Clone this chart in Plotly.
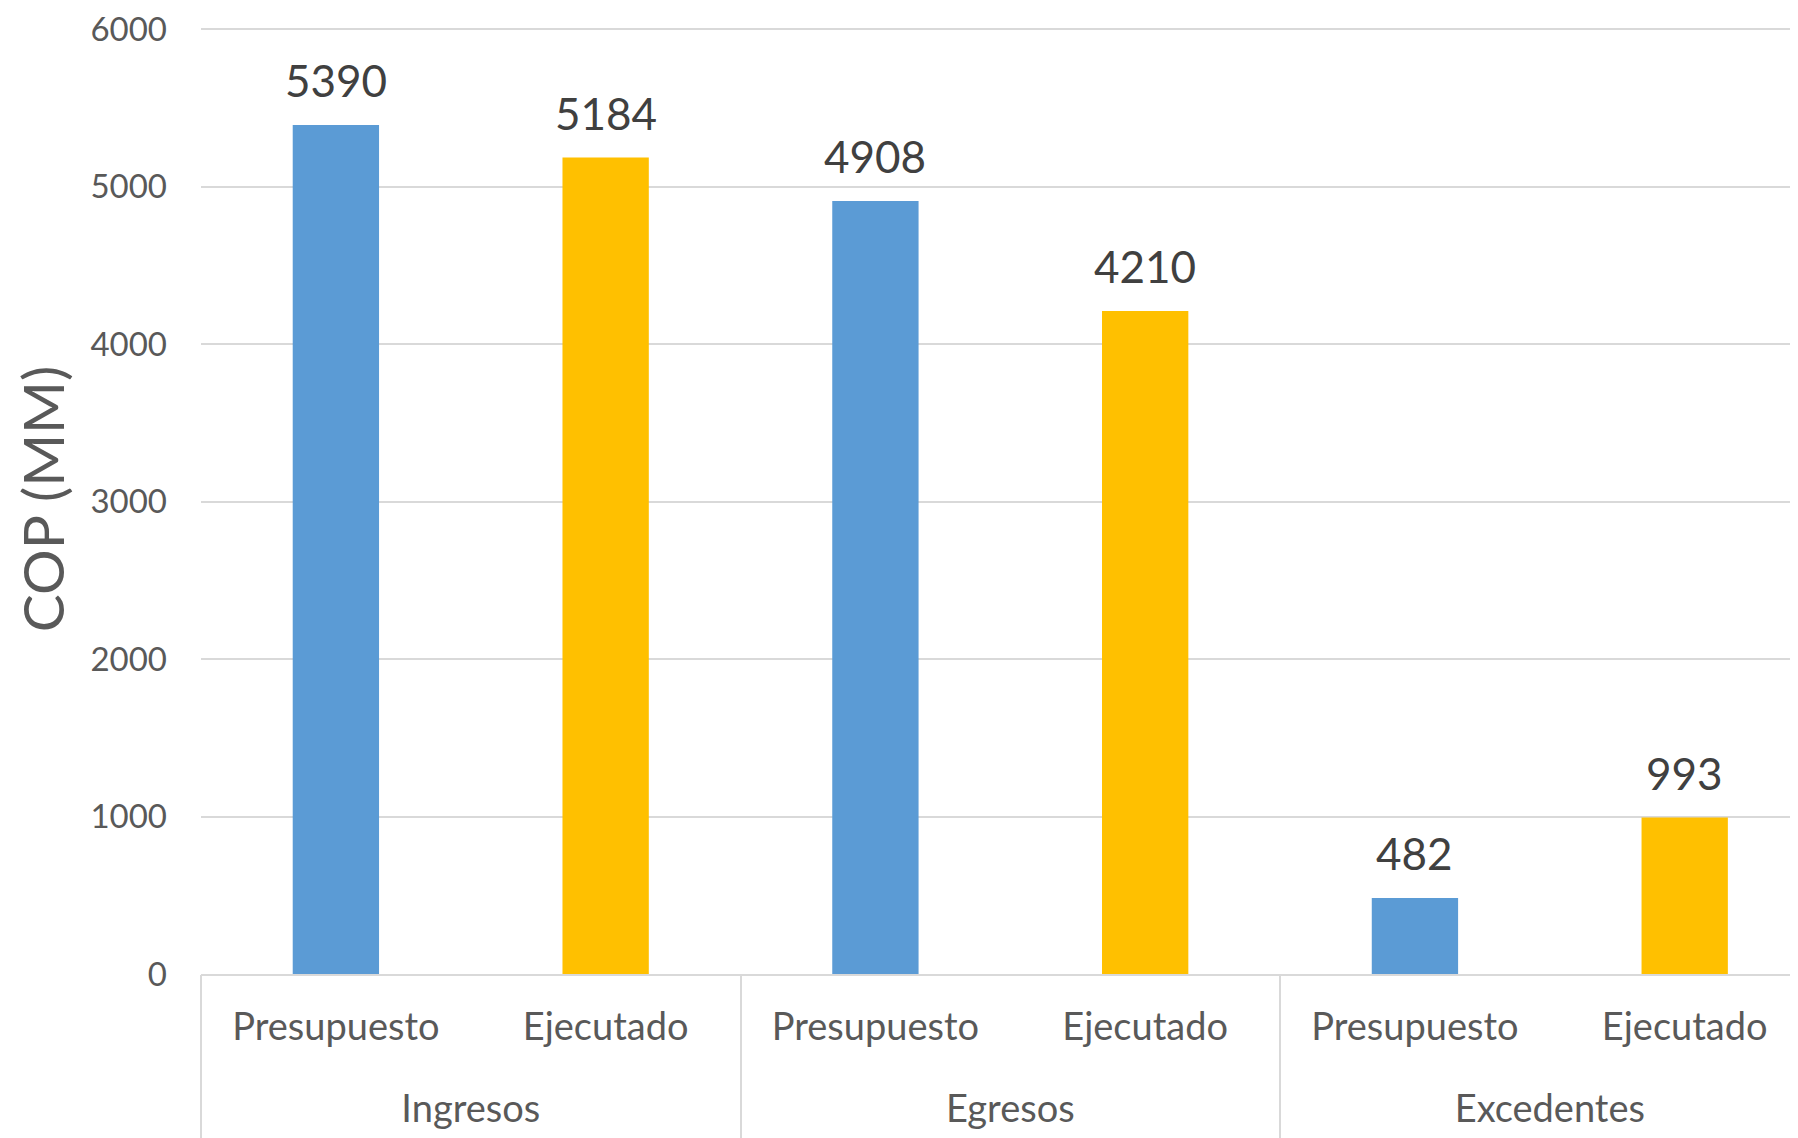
import plotly.graph_objects as go

groups = ["Ingresos", "Egresos", "Excedentes"]
kinds = ["Presupuesto", "Ejecutado", "Presupuesto", "Ejecutado", "Presupuesto", "Ejecutado"]
group_of_bar = ["Ingresos", "Ingresos", "Egresos", "Egresos", "Excedentes", "Excedentes"]
values = [5390, 5184, 4908, 4210, 482, 993]
colors_by_kind = {"Presupuesto": "#5B9BD5", "Ejecutado": "#FFC000"}
y_ticks = [0, 1000, 2000, 3000, 4000, 5000, 6000]

FONT = "Lato"
GRAY = "#D9D9D9"

positions = list(range(len(values)))
group_centers = [
    sum(i for i, g in enumerate(group_of_bar) if g == grp) / group_of_bar.count(grp)
    for grp in groups
]
group_edges = [-0.5] + [
    max(i for i, g in enumerate(group_of_bar) if g == grp) + 0.5 for grp in groups
]

fig = go.Figure()
fig.add_trace(go.Bar(
    x=positions,
    y=values,
    marker=dict(color=[colors_by_kind[k] for k in kinds], line=dict(width=0)),
    width=0.32,
    hovertext=[f"{g} - {k}" for g, k in zip(group_of_bar, kinds)],
))
# empty traces so the extra label axes are rendered
fig.add_trace(go.Scatter(x=[], y=[], xaxis="x2", showlegend=False))
fig.add_trace(go.Scatter(x=[], y=[], xaxis="x3", showlegend=False))

for xpos, v in zip(positions, values):
    fig.add_annotation(
        x=xpos, y=v, xref="x", yref="y",
        text=str(v), showarrow=False,
        yanchor="bottom", yshift=17,
        font=dict(family=FONT, size=44, color="#404040"),
    )

XRANGE = [-0.5, 5.42]

fig.update_layout(
    width=1790,
    height=1130,
    margin=dict(l=193, r=0, t=16, b=164, autoexpand=False),
    paper_bgcolor="white",
    plot_bgcolor="white",
    showlegend=False,
    font=dict(family=FONT, color="#595959"),
    xaxis=dict(
        range=XRANGE,
        tickvals=positions,
        ticktext=kinds,
        tickfont=dict(family=FONT, size=38, color="#595959"),
        ticklabelstandoff=18,
        showline=True, linecolor=GRAY, linewidth=2,
        ticks="", showgrid=False, zeroline=False,
        automargin=False,
    ),
    xaxis2=dict(
        overlaying="x", anchor="y", side="bottom",
        range=XRANGE,
        tickvals=group_centers,
        ticktext=groups,
        tickfont=dict(family=FONT, size=38, color="#595959"),
        ticklabelstandoff=109,
        showline=False, ticks="", showgrid=False, zeroline=False,
        automargin=False,
    ),
    xaxis3=dict(
        overlaying="x", anchor="y", side="bottom",
        range=XRANGE,
        tickvals=group_edges,
        showticklabels=False,
        ticks="outside", ticklen=170, tickwidth=2, tickcolor=GRAY,
        showline=False, showgrid=False, zeroline=False,
        automargin=False,
    ),
    yaxis=dict(
        range=[0, 6032],
        tickvals=y_ticks,
        ticktext=[str(t) for t in y_ticks],
        tickfont=dict(family=FONT, size=33, color="#595959"),
        ticklabeloverflow="allow",
        showgrid=True, gridcolor=GRAY, gridwidth=2,
        zeroline=False, showline=False, ticks="",
        ticklabelstandoff=33,
        title=dict(text="COP (MM)", font=dict(family=FONT, size=57, color="#595959"), standoff=9),
        automargin=False,
    ),
)

fig.write_html("out.html")
